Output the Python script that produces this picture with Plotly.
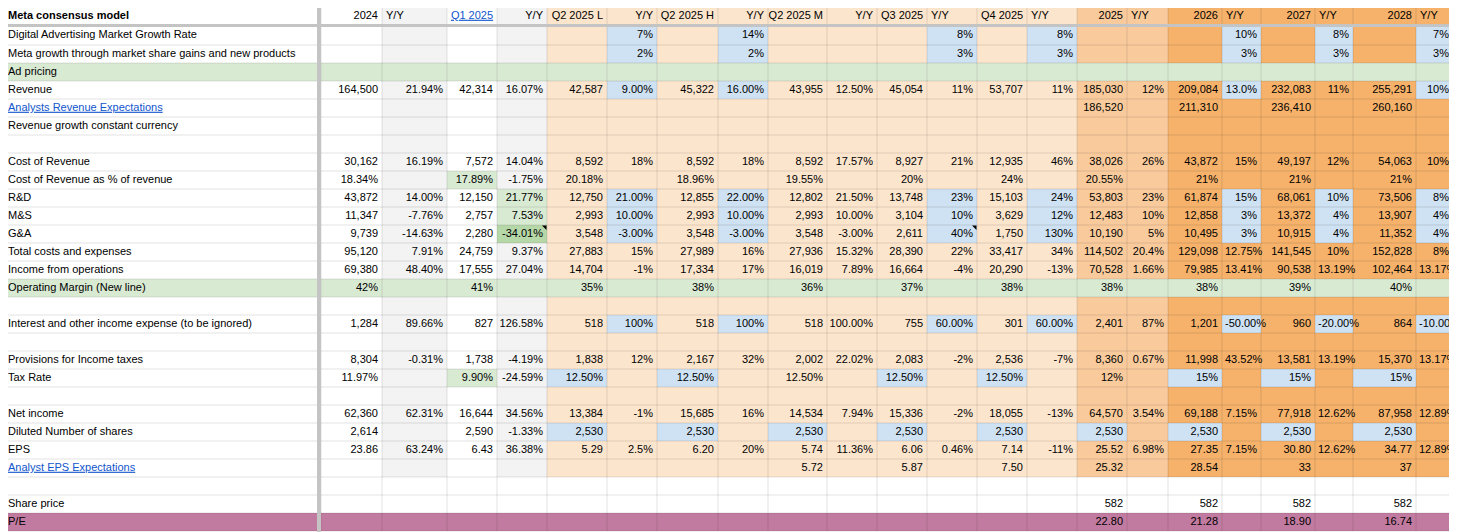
import plotly.graph_objects as go

headers = ["Meta consensus model", "2024", "Y/Y", "Q1 2025", "Y/Y", "Q2 2025 L", "Y/Y", "Q2 2025 H", "Y/Y",
           "Q2 2025 M", "Y/Y", "Q3 2025", "Y/Y", "Q4 2025", "Y/Y", "2025", "Y/Y", "2026", "Y/Y", "2027", "Y/Y", "2028", "Y/Y"]

labels = ["Digital Advertising Market Growth Rate", "Meta growth through market share gains and new products",
          "Ad pricing", "Revenue", "Analysts Revenue Expectations", "Revenue growth constant currency", "",
          "Cost of Revenue", "Cost of Revenue as % of revenue", "R&D", "M&S", "G&A", "Total costs and expenses",
          "Income from operations", "Operating Margin (New line)", "", "Interest and other income expense (to be ignored)",
          "", "Provisions for Income taxes", "Tax Rate", "", "Net income", "Diluted Number of shares", "EPS",
          "Analyst EPS Expectations", "", "Share price", "P/E"]

E = ""
market_growth = [E, E, E, E, E, "7%", E, "14%", E, E, E, "8%", E, "8%", E, E, E, "10%", E, "8%", E, "7%"]
share_gains = [E, E, E, E, E, "2%", E, "2%", E, E, E, "3%", E, "3%", E, E, E, "3%", E, "3%", E, "3%"]
ad_pricing = [E] * 22
revenue = ["164,500", "21.94%", "42,314", "16.07%", "42,587", "9.00%", "45,322", "16.00%", "43,955", "12.50%",
           "45,054", "11%", "53,707", "11%", "185,030", "12%", "209,084", "13.0%", "232,083", "11%", "255,291", "10%"]
analyst_revenue = [E] * 14 + ["186,520", E, "211,310", E, "236,410", E, "260,160", E]
rev_cc = [E] * 22
blank = [E] * 22
cost_rev = ["30,162", "16.19%", "7,572", "14.04%", "8,592", "18%", "8,592", "18%", "8,592", "17.57%", "8,927", "21%",
            "12,935", "46%", "38,026", "26%", "43,872", "15%", "49,197", "12%", "54,063", "10%"]
cost_pct = ["18.34%", E, "17.89%", "-1.75%", "20.18%", E, "18.96%", E, "19.55%", E, "20%", E, "24%", E,
            "20.55%", E, "21%", E, "21%", E, "21%", E]
rnd = ["43,872", "14.00%", "12,150", "21.77%", "12,750", "21.00%", "12,855", "22.00%", "12,802", "21.50%", "13,748",
       "23%", "15,103", "24%", "53,803", "23%", "61,874", "15%", "68,061", "10%", "73,506", "8%"]
mns = ["11,347", "-7.76%", "2,757", "7.53%", "2,993", "10.00%", "2,993", "10.00%", "2,993", "10.00%", "3,104", "10%",
       "3,629", "12%", "12,483", "10%", "12,858", "3%", "13,372", "4%", "13,907", "4%"]
gna = ["9,739", "-14.63%", "2,280", "-34.01%", "3,548", "-3.00%", "3,548", "-3.00%", "3,548", "-3.00%", "2,611", "40%",
       "1,750", "130%", "10,190", "5%", "10,495", "3%", "10,915", "4%", "11,352", "4%"]
total_costs = ["95,120", "7.91%", "24,759", "9.37%", "27,883", "15%", "27,989", "16%", "27,936", "15.32%", "28,390",
               "22%", "33,417", "34%", "114,502", "20.4%", "129,098", "12.75%", "141,545", "10%", "152,828", "8%"]
op_income = ["69,380", "48.40%", "17,555", "27.04%", "14,704", "-1%", "17,334", "17%", "16,019", "7.89%", "16,664",
             "-4%", "20,290", "-13%", "70,528", "1.66%", "79,985", "13.41%", "90,538", "13.19%", "102,464", "13.17%"]
op_margin = ["42%", E, "41%", E, "35%", E, "38%", E, "36%", E, "37%", E, "38%", E, "38%", E, "38%", E, "39%", E, "40%", E]
interest = ["1,284", "89.66%", "827", "126.58%", "518", "100%", "518", "100%", "518", "100.00%", "755", "60.00%",
            "301", "60.00%", "2,401", "87%", "1,201", "-50.00%", "960", "-20.00%", "864", "-10.00%"]
provisions = ["8,304", "-0.31%", "1,738", "-4.19%", "1,838", "12%", "2,167", "32%", "2,002", "22.02%", "2,083", "-2%",
              "2,536", "-7%", "8,360", "0.67%", "11,998", "43.52%", "13,581", "13.19%", "15,370", "13.17%"]
tax_rate = ["11.97%", E, "9.90%", "-24.59%", "12.50%", E, "12.50%", E, "12.50%", E, "12.50%", E, "12.50%", E,
            "12%", E, "15%", E, "15%", E, "15%", E]
net_income = ["62,360", "62.31%", "16,644", "34.56%", "13,384", "-1%", "15,685", "16%", "14,534", "7.94%", "15,336",
              "-2%", "18,055", "-13%", "64,570", "3.54%", "69,188", "7.15%", "77,918", "12.62%", "87,958", "12.89%"]
shares = ["2,614", E, "2,590", "-1.33%", "2,530", E, "2,530", E, "2,530", E, "2,530", E, "2,530", E,
          "2,530", E, "2,530", E, "2,530", E, "2,530", E]
eps = ["23.86", "63.24%", "6.43", "36.38%", "5.29", "2.5%", "6.20", "20%", "5.74", "11.36%", "6.06", "0.46%",
       "7.14", "-11%", "25.52", "6.98%", "27.35", "7.15%", "30.80", "12.62%", "34.77", "12.89%"]
analyst_eps = [E] * 8 + ["5.72", E, "5.87", E, "7.50", E, "25.32", E, "28.54", E, "33", E, "37", E]
share_price = [E] * 14 + ["582", E, "582", E, "582", E, "582", E]
pe = [E] * 14 + ["22.80", E, "21.28", E, "18.90", E, "16.74", E]

rows = [market_growth, share_gains, ad_pricing, revenue, analyst_revenue, rev_cc, blank, cost_rev, cost_pct, rnd,
        mns, gna, total_costs, op_income, op_margin, blank, interest, blank, provisions, tax_rate, blank,
        net_income, shares, eps, analyst_eps, blank, share_price, pe]

# ---- layout (pixel grid of the sheet) ----
col_edges = [4, 321, 382, 447, 497, 547, 607, 657, 718, 768, 827, 877, 927, 977, 1027, 1077, 1127, 1168,
             1222, 1261, 1315, 1353, 1416, 1453]
row_edges = [5, 26] + [27 + 18 * k for k in range(1, 29)]
NC = len(headers)
NR = len(rows) + 1

WHITE, GRAY, PEACH, LORANGE, ORANGE = "#ffffff", "#f3f3f3", "#fce5cd", "#f9cb9c", "#f6b26b"
BLUE, GREEN, DGREEN, PURPLE = "#cfe2f3", "#d9ead3", "#b6d7a8", "#c27ba0"
palette = [WHITE, GRAY, PEACH, LORANGE, ORANGE, BLUE, GREEN, DGREEN, PURPLE]

def base_color(c):
    if c in (2, 4):
        return GRAY
    if 5 <= c <= 14:
        return PEACH
    if c in (15, 16):
        return LORANGE
    if c >= 17:
        return ORANGE
    return WHITE

grid = [[base_color(c) for c in range(NC)] for _ in range(NR)]
for r in range(1, NR):
    d = r - 1
    for c in range(NC):
        if d in (25, 26):
            grid[r][c] = WHITE
        if d in (2, 14):
            grid[r][c] = GREEN
        if d == 27:
            grid[r][c] = PURPLE
yy_inputs = [6, 8, 12, 14, 18, 20, 22]
blue_cells = {0: yy_inputs, 1: yy_inputs, 3: [6, 8, 18, 22], 9: yy_inputs, 10: yy_inputs, 11: yy_inputs,
              16: yy_inputs, 19: [5, 7, 11, 13, 17, 19, 21], 22: [5, 7, 9, 11, 13, 15, 17, 19, 21]}
for d, cs in blue_cells.items():
    for c in cs:
        grid[d + 1][c] = BLUE
for (d, c) in [(8, 3), (9, 4), (10, 4), (19, 3)]:
    grid[d + 1][c] = GREEN
grid[12][4] = DGREEN

z = [[palette.index(v) for v in row] for row in grid]
n = len(palette)
cscale = []
for i, col in enumerate(palette):
    cscale.append([i / n, col])
    cscale.append([(i + 1) / n, col])

fig = go.Figure()
fig.add_trace(go.Heatmap(x=col_edges, y=row_edges, z=z, zmin=-0.5, zmax=n - 0.5, colorscale=cscale,
                         showscale=False, hoverinfo="skip"))

# ---- texts ----
LINK = "#1155cc"
LINKS = ("Analysts Revenue Expectations", "Analyst EPS Expectations")
hdr_align = ["left", "right", "left", "center", "right", "right", "right", "right", "right", "right", "right",
             "left", "left", "left", "left", "right", "left", "right", "left", "right", "left", "right", "left"]

groups = {}
def add_text(txt, r, c, align, color):
    if not txt:
        return
    x0, x1 = col_edges[c], col_edges[c + 1]
    y = (row_edges[r] + row_edges[r + 1]) / 2 + (0.5 if r == 0 else 0)
    if align == "left":
        x, pos = x0 + (4 if c in (0, 2) or r == 0 else 3), "middle right"
    elif align == "center":
        x, pos = (x0 + x1) / 2, "middle center"
    else:
        x, pos = x1 - 4, "middle left"
    g = groups.setdefault((pos, color), ([], [], []))
    g[0].append(x)
    g[1].append(y)
    g[2].append(txt)

for c, h in enumerate(headers):
    if c == 0:
        add_text("<b>" + h + "</b>", 0, c, "left", "#000000")
    elif c == 3:
        add_text("<u>" + h + "</u>", 0, c, "center", LINK)
    else:
        add_text(h, 0, c, hdr_align[c], "#000000")

for d, lab in enumerate(labels):
    if lab in LINKS:
        add_text("<u>" + lab + "</u>", d + 1, 0, "left", LINK)
    else:
        add_text(lab, d + 1, 0, "left", "#000000")
    for c, v in enumerate(rows[d]):
        # narrow Y/Y columns overflow: the sheet shows these starting at the cell's left edge
        al = "left" if (c + 1) in (18, 20, 22) and len(v) >= 6 else "right"
        add_text(v, d + 1, c + 1, al, "#000000")

for (pos, color), (xs, ys, ts) in groups.items():
    fig.add_trace(go.Scatter(x=xs, y=ys, text=ts, mode="text", textposition=pos, hoverinfo="skip",
                             textfont=dict(family="Liberation Sans, Arial, sans-serif", size=11, color=color),
                             showlegend=False, cliponaxis=True))

# comment markers
fig.add_trace(go.Scatter(x=[col_edges[5] - 2, col_edges[13] - 2], y=[row_edges[12] + 2, row_edges[12] + 2],
                         mode="markers", marker=dict(symbol="triangle-ne", size=5, color="black"),
                         hoverinfo="skip", showlegend=False))

# ---- grid lines ----
shapes = []
for x in col_edges:
    shapes.append(dict(type="line", x0=x, x1=x, y0=row_edges[0], y1=row_edges[-1], xref="x", yref="y",
                       line=dict(color="rgba(0,0,0,0.11)", width=1), layer="above"))
for y in row_edges[2:]:
    shapes.append(dict(type="line", x0=col_edges[0], x1=col_edges[-1], y0=y, y1=y, xref="x", yref="y",
                       line=dict(color="rgba(0,0,0,0.11)", width=1), layer="above"))
shapes.append(dict(type="line", x0=319, x1=319, y0=0, y1=540, xref="x", yref="y",
                   line=dict(color="#c4c4c4", width=4), layer="above"))
shapes.append(dict(type="line", x0=0, x1=1460, y0=25.5, y1=25.5, xref="x", yref="y",
                   line=dict(color="#c4c4c4", width=3), layer="above"))

fig.update_layout(
    width=1449, height=524, margin=dict(l=0, r=0, t=0, b=0),
    paper_bgcolor="white", plot_bgcolor="white", shapes=shapes,
    xaxis=dict(range=[8, 1457], visible=False, fixedrange=True),
    yaxis=dict(range=[532, 8], visible=False, fixedrange=True),
)
fig.write_html("out.html")
